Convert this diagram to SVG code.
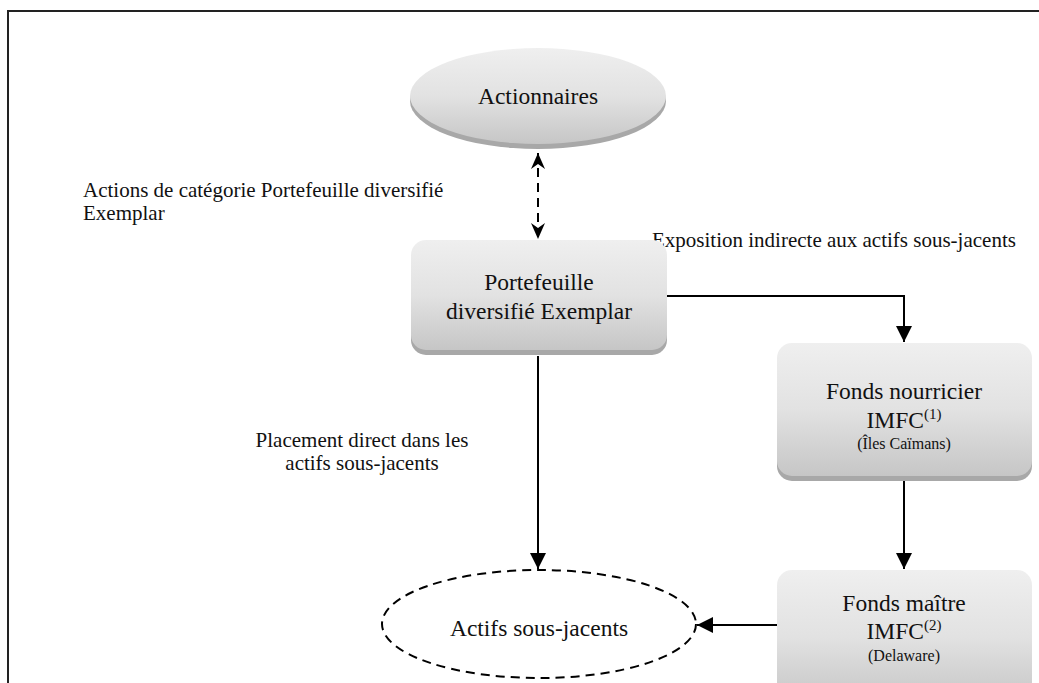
<svg xmlns="http://www.w3.org/2000/svg" width="1039" height="683" viewBox="0 0 1039 683">
<defs>
<linearGradient id="g" x1="0" y1="0" x2="0" y2="1">
<stop offset="0" stop-color="#efefef"/>
<stop offset="0.5" stop-color="#e2e2e2"/>
<stop offset="1" stop-color="#c6c6c6"/>
</linearGradient>
<marker id="ah" markerWidth="16" markerHeight="16" viewBox="0 0 16 16" refX="16" refY="8" orient="auto" markerUnits="userSpaceOnUse">
<path d="M0,0 L16,8 L0,16 Z" fill="#000"/>
</marker>
<marker id="ahs" markerWidth="16" markerHeight="16" viewBox="0 0 16 16" refX="16" refY="8" orient="auto-start-reverse" markerUnits="userSpaceOnUse">
<path d="M0,1 L16,8 L0,15 L5,8 Z" fill="#000"/>
</marker>
</defs>
<style>
.t{font-family:"Liberation Serif","Times New Roman",serif;fill:#111}
.n{font-size:23.5px}
.l{font-size:21px}
.s{font-size:16px}
.sh{fill:#a8a8a8}
.bx{fill:url(#g)}
.c{fill:none;stroke:#000;stroke-width:2}
</style>
<rect x="0" y="0" width="1039" height="683" fill="#fff"/>
<path d="M8,690 L8,11 L1045,11" fill="none" stroke="#222" stroke-width="2"/>
<g id="connectors">
<line class="c" x1="538" y1="153" x2="538" y2="239" stroke-dasharray="9,6" marker-start="url(#ahs)" marker-end="url(#ahs)"/>
<polyline class="c" points="667,296 904,296 904,342" marker-end="url(#ah)"/>
<line class="c" x1="904" y1="481" x2="904" y2="569" marker-end="url(#ah)"/>
<line class="c" x1="538" y1="356" x2="538" y2="569" marker-end="url(#ah)"/>
<line class="c" x1="777" y1="625" x2="697" y2="625" marker-end="url(#ah)"/>
</g>
<g id="label-actions">
<text class="t l" x="83" y="197">Actions de catégorie Portefeuille diversifié</text>
<text class="t l" x="83" y="220">Exemplar</text>
</g>
<g id="label-exposition">
<text class="t l" x="652" y="247">Exposition indirecte aux actifs sous-jacents</text>
</g>
<g id="label-placement">
<text class="t l" x="362" y="447" text-anchor="middle">Placement direct dans les</text>
<text class="t l" x="362" y="470" text-anchor="middle">actifs sous-jacents</text>
</g>
<g id="node-actionnaires">
<ellipse class="sh" cx="538" cy="101" rx="128" ry="48"/>
<ellipse class="bx" cx="538" cy="96" rx="128" ry="48"/>
<text class="t n" x="538" y="104" text-anchor="middle">Actionnaires</text>
</g>
<g id="node-portefeuille">
<rect class="sh" x="411" y="245" width="256" height="110" rx="15"/>
<rect class="bx" x="411" y="240" width="256" height="110" rx="15"/>
<text class="t n" x="539" y="290" text-anchor="middle">Portefeuille</text>
<text class="t n" x="539" y="319" text-anchor="middle">diversifié Exemplar</text>
</g>
<g id="node-nourricier">
<rect class="sh" x="777" y="348" width="255" height="133" rx="15"/>
<rect class="bx" x="777" y="343" width="255" height="133" rx="15"/>
<text class="t n" x="904" y="399" text-anchor="middle">Fonds nourricier</text>
<text class="t n" x="904" y="428" text-anchor="middle">IMFC<tspan font-size="15" dy="-9">(1)</tspan></text>
<text class="t s" x="904" y="449" text-anchor="middle">(Îles Caïmans)</text>
</g>
<g id="node-maitre">
<rect class="sh" x="777" y="575" width="255" height="133" rx="15"/>
<rect class="bx" x="777" y="570" width="255" height="133" rx="15"/>
<text class="t n" x="904" y="611" text-anchor="middle">Fonds maître</text>
<text class="t n" x="904" y="639" text-anchor="middle">IMFC<tspan font-size="15" dy="-9">(2)</tspan></text>
<text class="t s" x="904" y="661" text-anchor="middle">(Delaware)</text>
</g>
<g id="node-actifs">
<ellipse cx="539" cy="624" rx="157" ry="54" fill="none" stroke="#000" stroke-width="2" stroke-dasharray="9,6"/>
<text class="t n" x="539" y="636" text-anchor="middle">Actifs sous-jacents</text>
</g>
</svg>
